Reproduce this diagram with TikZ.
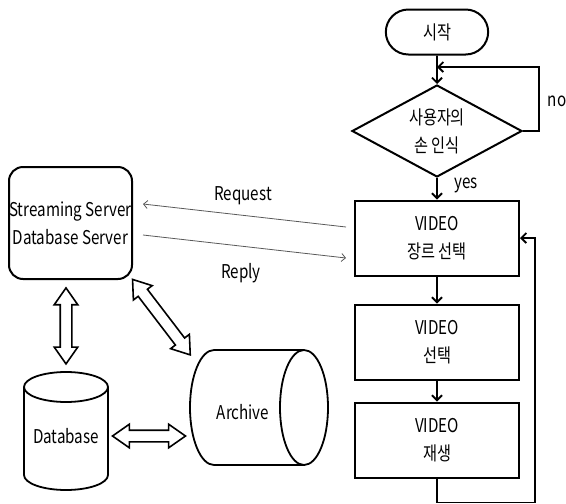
\documentclass[tikz,border=0pt]{standalone}
\usepackage{fontspec}
\setmainfont{Noto Sans CJK KR}[FakeStretch=0.8]
\usetikzlibrary{arrows.meta,shapes.geometric,shapes.arrows,shapes.misc}

\begin{document}
\begin{tikzpicture}[x=1pt,y=-1pt,
  every node/.style={font=\fontsize{19}{28}\selectfont},
  box/.style={draw,line width=2pt,minimum width=164pt,minimum height=75pt,align=center},
  flow/.style={line width=1.8pt,-{Straight Barb[length=5pt,width=10pt]}},
  msg/.style={black!65,line width=0.8pt,-{Straight Barb[length=4pt,width=8pt]}},
  dbl/.style={double arrow,draw,fill=white,line width=1.6pt,inner xsep=0pt,inner ysep=5pt,
    minimum width=22pt,double arrow head extend=6pt,double arrow tip angle=70,sloped}]
\useasboundingbox (0,0) rectangle (566,504);
% flowchart
\node[draw,line width=2pt,rounded rectangle,minimum width=109pt,minimum height=45pt] (start) at (437,32) {시작};
\node[draw,line width=2pt,diamond,aspect=1.85,minimum width=170pt,minimum height=92pt,inner sep=0pt,align=center] (hand) at (437,131) {사용자의\\손 인식};
\node[box] (genre) at (437,238) {VIDEO\\장르 선택};
\node[box] (pick) at (437,342) {VIDEO\\선택};
\node[box] (play) at (437,440) {VIDEO\\재생};
\coordinate (back) at (437,67);
\node (no) at (557,101) {no};
\node (yes) at (466,185) {yes};
\draw[flow] (start) -- (hand);
\draw[flow] (hand.east) -- ++(16,0) |- (back);
\draw[flow] (hand) -- (genre);
\draw[flow] (genre) -- (pick);
\draw[flow] (pick) -- (play);
\draw[flow] (play.south) -- ++(0,24) -| ([xshift=15pt]genre.east) -- (genre.east);
% servers and storage
\node[draw,line width=2pt,rounded corners=14pt,minimum width=123pt,minimum height=112pt,inner xsep=0pt,align=center] (srv) at (70.5,223) {Streaming Server\\Database Server};
\node[minimum width=84pt,minimum height=118pt] (db) at (66,436) {Database};
\node[minimum width=106pt,minimum height=115pt] (arch) at (243,412) {Archive};
\draw[line width=1.8pt] (66,387) ellipse (42 and 15);
\draw[line width=1.8pt] (24,387) -- (24,475) arc (180:0:42 and 15) -- (108,387);
\draw[line width=1.8pt] (304,407.5) ellipse (24 and 57.5);
\draw[line width=1.8pt] (304,350) -- (214,350) arc (270:90:24 and 57.5) -- (304,465);
\draw[msg] ([xshift=-8pt,yshift=11pt]genre.west) -- ([xshift=10pt,yshift=19pt]srv.east);
\draw[msg] ([xshift=10pt,yshift=-12pt]srv.east) -- ([xshift=-8pt,yshift=-20pt]genre.west);
\node (req) at (243,196) {Request};
\node (rep) at (241,273) {Reply};
\path (srv.south -| db.north) -- ([yshift=5pt]db.north) node[dbl,midway,minimum height=76pt] {};
\path (srv.south east) -- (arch.north west) node[dbl,midway,minimum height=95pt] {};
\path (db.east) -- (db.east -| arch.west) node[dbl,midway,minimum height=73pt] {};
\end{tikzpicture}
\end{document}
